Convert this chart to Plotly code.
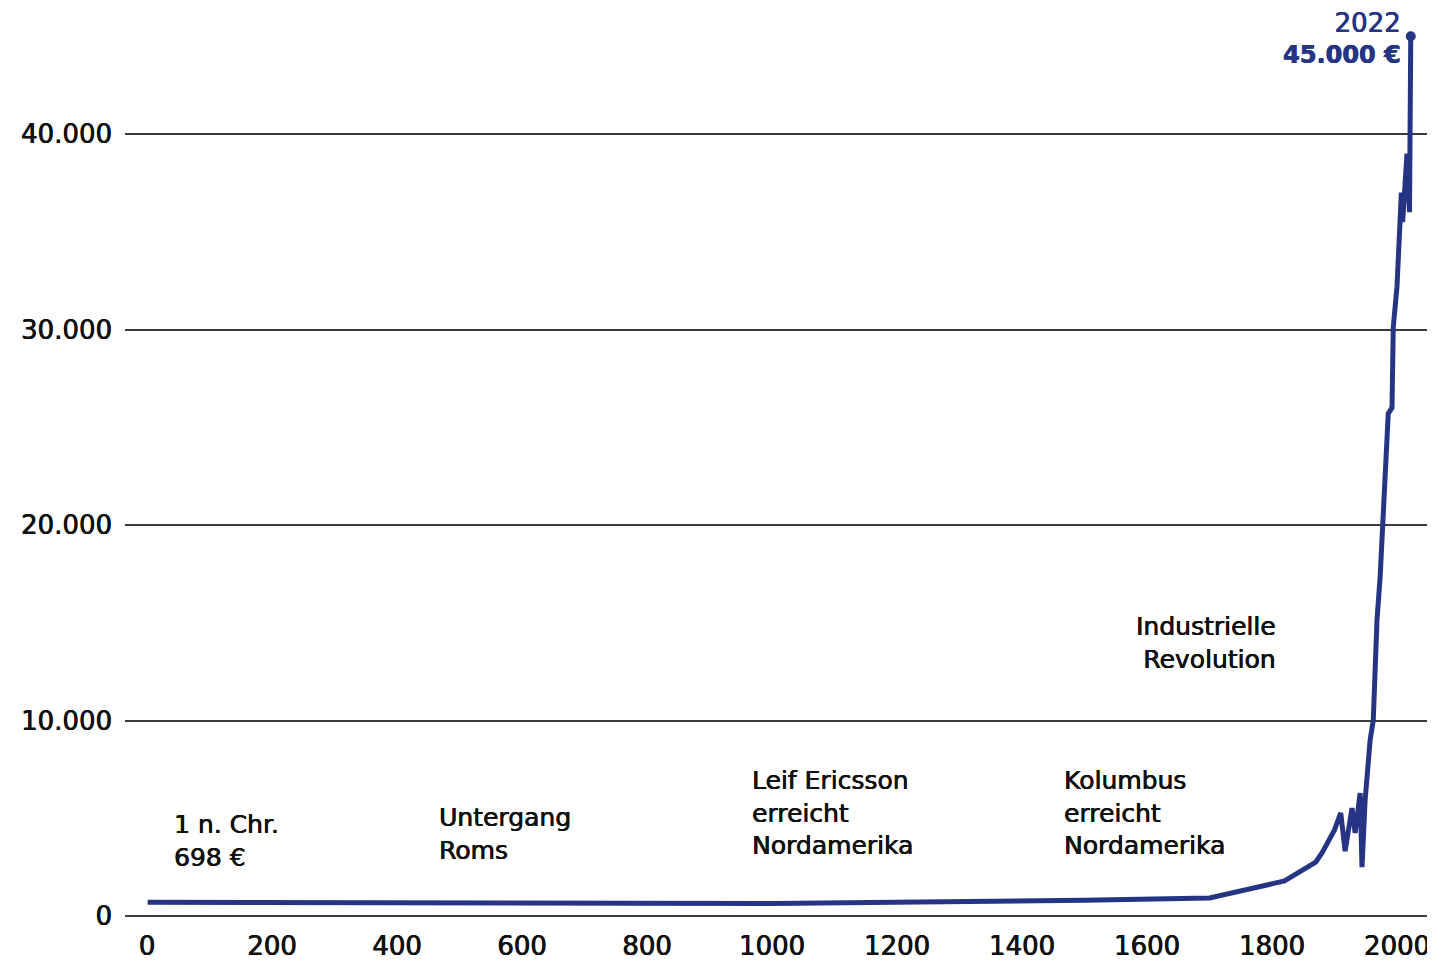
import plotly.graph_objects as go

years = [1, 1000, 1500, 1700, 1820, 1870, 1880, 1900, 1910, 1917, 1928, 1933, 1941, 1944,
         1949, 1957, 1962, 1968, 1973, 1978, 1986, 1992, 1994, 2000, 2005, 2007, 2009,
         2016, 2020, 2022]
gdp = [698, 640, 800, 920, 1790, 2760, 3220, 4400, 5270, 3320, 5520, 4250, 6290, 2500,
       5930, 9000, 10000, 15140, 17340, 20600, 25700, 26000, 30100, 32200, 35300, 37000, 35500,
       39000, 36000, 45000]

y_ticks = [0, 10000, 20000, 30000, 40000]
x_ticks = list(range(0, 2001, 200))

events = [
    (40, 5500, "1 n. Chr.<br>698 €", "left"),
    (464, 5860, "Untergang<br>Roms", "left"),
    (965, 7750, "Leif Ericsson<br>erreicht<br>Nordamerika", "left"),
    (1464, 7750, "Kolumbus<br>erreicht<br>Nordamerika", "left"),
    (1810, 15630, "Industrielle<br>Revolution", "right"),
]

BLUE = "#253584"
INK = "#111111"
FONT = "DejaVu Sans"
THICK = "0.45px 0 0 {c}, -0.2px 0 0 {c}"

fig = go.Figure()
fig.add_trace(go.Scatter(
    x=years, y=gdp, mode="lines",
    line=dict(color=BLUE, width=5, shape="linear"),
    hoverinfo="skip", showlegend=False,
))
fig.add_trace(go.Scatter(
    x=[years[-1]], y=[gdp[-1]], mode="markers",
    marker=dict(color=BLUE, size=10),
    hoverinfo="skip", showlegend=False, cliponaxis=False,
))

for x, y, t, al in events:
    fig.add_annotation(x=x, y=y, xref="x", yref="y", text=t, showarrow=False,
                       xanchor=al, yanchor="top", align=al,
                       font=dict(family=FONT, size=25, color=INK,
                                 shadow=THICK.format(c=INK)))

fig.add_annotation(x=2010, y=1.011, xref="x", yref="paper",
                   text="<span style='font-size:26px'>2022</span><br><b>45.000 €</b>",
                   showarrow=False, xanchor="right", yanchor="top", align="right",
                   font=dict(family=FONT, size=24, color=BLUE,
                             shadow=THICK.format(c=BLUE)))

# the page adds an 8px body margin, so the figure is sized to fit the window
fig.update_layout(
    width=1427, height=955,
    margin=dict(l=117, r=3, t=8, b=47, autoexpand=False),
    paper_bgcolor="white", plot_bgcolor="white",
    separators=",.",
    font=dict(family=FONT, size=25, color=INK),
    showlegend=False,
)
tick_font = dict(family=FONT, size=26, color=INK, shadow=THICK.format(c=INK))
fig.update_xaxes(range=[-35.2, 2056], tickvals=x_ticks, showgrid=False, zeroline=False,
                 showline=False, ticks="", automargin=False, tickfont=tick_font,
                 ticklabelstandoff=12, fixedrange=True)
fig.update_yaxes(range=[0, 46036], tickvals=y_ticks, tickformat=",d",
                 showgrid=True, gridcolor="#3a3a3a", gridwidth=1.5,
                 zeroline=True, zerolinecolor="#3a3a3a", zerolinewidth=1.5,
                 showline=False, ticks="", ticklabelstandoff=12, automargin=False,
                 tickfont=tick_font, fixedrange=True)

fig.write_html("out.html")
